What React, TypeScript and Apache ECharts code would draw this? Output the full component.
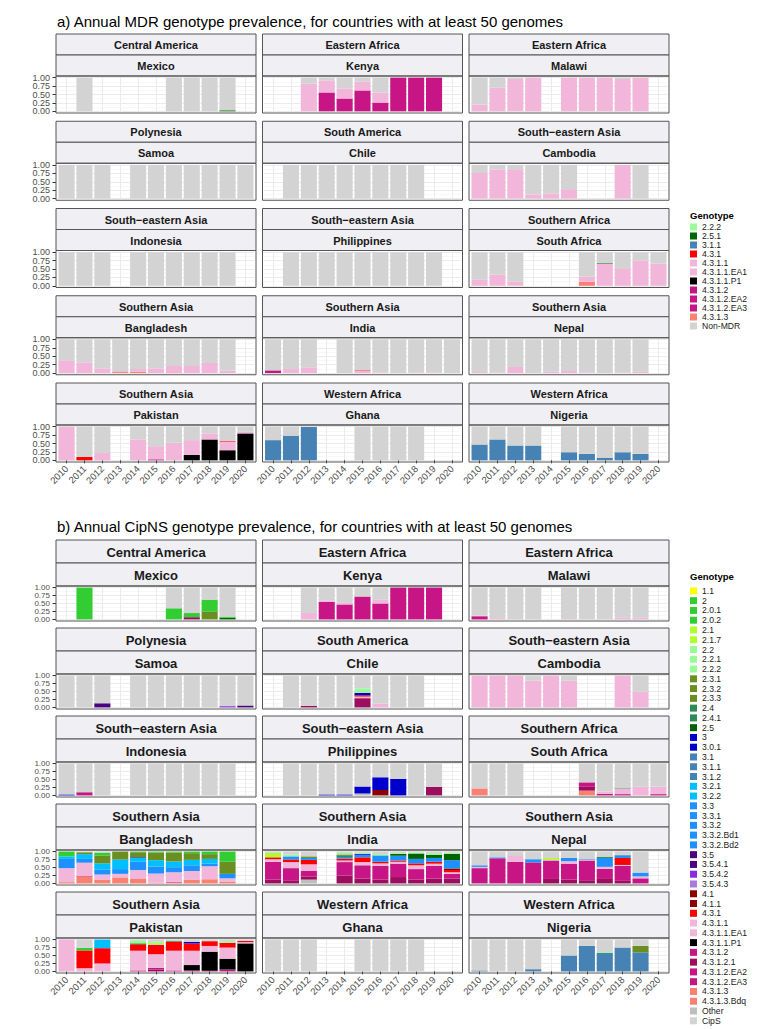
import React, { useEffect, useRef } from "react";
import * as echarts from "echarts";

const N = null;
const YEARS = ["2010", "2011", "2012", "2013", "2014", "2015", "2016", "2017", "2018", "2019", "2020"];
const Y_LABELS_EVEN = [0, 0.5, 1];
const Y_LABELS_ODD = [0.25, 0.75];

const TITLE_A = "a) Annual MDR genotype prevalence, for countries with at least 50 genomes";
const TITLE_B = "b) Annual CipNS genotype prevalence, for countries with at least 50 genomes";

const MDR_LEGEND = ["2.2.2", "2.5.1", "3.1.1", "4.3.1", "4.3.1.1", "4.3.1.1.EA1", "4.3.1.1.P1", "4.3.1.2", "4.3.1.2.EA2", "4.3.1.2.EA3", "4.3.1.3", "Non-MDR"];
const CIP_LEGEND = ["1.1", "2", "2.0.1", "2.0.2", "2.1", "2.1.7", "2.2", "2.2.1", "2.2.2", "2.3.1", "2.3.2", "2.3.3", "2.4", "2.4.1", "2.5", "3", "3.0.1", "3.1", "3.1.1", "3.1.2", "3.2.1", "3.2.2", "3.3", "3.3.1", "3.3.2", "3.3.2.Bd1", "3.3.2.Bd2", "3.5", "3.5.4.1", "3.5.4.2", "3.5.4.3", "4.1", "4.1.1", "4.3.1", "4.3.1.1", "4.3.1.1.EA1", "4.3.1.1.P1", "4.3.1.2", "4.3.1.2.1", "4.3.1.2.EA2", "4.3.1.2.EA3", "4.3.1.3", "4.3.1.3.Bdq", "Other", "CipS"];

const COLORS: Record<string, string> = {
  "1.1": "#FFFF00",
  "2": "#32CD32", "2.0.1": "#32CD32", "2.0.2": "#32CD32",
  "2.1": "#ADFF2F", "2.1.7": "#ADFF2F",
  "2.2": "#98FB98", "2.2.1": "#98FB98", "2.2.2": "#98FB98",
  "2.3.1": "#6B8E23", "2.3.2": "#6B8E23", "2.3.3": "#6B8E23",
  "2.4": "#2E8B57", "2.4.1": "#2E8B57",
  "2.5": "#006400", "2.5.1": "#006400",
  "3": "#0000CD", "3.0.1": "#0000CD",
  "3.1": "#4682B4", "3.1.1": "#4682B4", "3.1.2": "#4682B4",
  "3.2.1": "#00BFFF", "3.2.2": "#00BFFF",
  "3.3": "#1E90FF", "3.3.1": "#1E90FF", "3.3.2": "#1E90FF", "3.3.2.Bd1": "#1E90FF", "3.3.2.Bd2": "#1E90FF",
  "3.5": "#4B0082", "3.5.4.1": "#4B0082", "3.5.4.2": "#8A2BE2", "3.5.4.3": "#A77BDB",
  "4.1": "#8B0000", "4.1.1": "#8B0000",
  "4.3.1": "#FF0000",
  "4.3.1.1": "#F1B6DA", "4.3.1.1.EA1": "#F1B6DA",
  "4.3.1.1.P1": "#000000",
  "4.3.1.2": "#C71585", "4.3.1.2.1": "#9B0E5E", "4.3.1.2.EA2": "#C71585", "4.3.1.2.EA3": "#C71585",
  "4.3.1.3": "#FA8072", "4.3.1.3.Bdq": "#FA8072",
  "Other": "#BEBEBE",
  "CipS": "#D3D3D3", "Non-MDR": "#D3D3D3",
};

// ---------- panel a: MDR ----------
const A_MEXICO = {
  "2.5.1": [N, 0, N, N, N, N, 0, 0, 0, 0.03, N],
  "Non-MDR": [N, 1, N, N, N, N, 1, 1, 1, 0.97, N],
};
const A_KENYA = {
  "4.3.1.2": [N, N, 0, 0.56, 0.38, 0.62, 0.26, 1, 1, 1, N],
  "4.3.1.1": [N, N, 0.82, 0.36, 0.3, 0.26, 0.3, 0, 0, 0, N],
  "Non-MDR": [N, N, 0.18, 0.08, 0.32, 0.12, 0.44, 0, 0, 0, N],
};
const A_MALAWI = {
  "4.3.1.1": [0.2, 0.7, 0.96, 1, N, 1, 1, 1, 0.96, 1, N],
  "Non-MDR": [0.8, 0.3, 0.04, 0, N, 0, 0, 0, 0.04, 0, N],
};
const A_SAMOA = { "Non-MDR": [1, 1, 1, N, 1, 1, 1, 1, 1, 1, 1] };
const A_CHILE = { "Non-MDR": [N, 1, 1, 1, 1, 1, 1, 1, 1, N, N] };
const A_CAMBODIA = {
  "4.3.1.1": [0.76, 0.86, 0.87, 0.12, 0.15, 0.28, N, N, 1, 0, N],
  "Non-MDR": [0.24, 0.14, 0.13, 0.88, 0.85, 0.72, N, N, 0, 1, N],
};
const A_INDONESIA = { "Non-MDR": [1, 1, 1, N, 1, 1, 1, 1, 1, 1, N] };
const A_PHILIPPINES = { "Non-MDR": [N, 1, 1, 1, 1, 1, 1, 1, 1, 1, N] };
const A_SOUTH_AFRICA = {
  "4.3.1.3": [0, 0, 0, N, N, N, 0.12, 0, 0, 0, 0],
  "4.3.1.1": [0.18, 0.33, 0.12, N, N, N, 0.15, 0.65, 0.5, 0.75, 0.66],
  "2.5.1": [0, 0, 0, N, N, N, 0, 0.02, 0, 0, 0],
  "Non-MDR": [0.82, 0.67, 0.88, N, N, N, 0.73, 0.33, 0.5, 0.25, 0.34],
};
const A_BANGLADESH = {
  "4.3.1.3": [0, 0, 0, 0.03, 0.04, 0, 0.02, 0, 0, 0, N],
  "4.3.1.1": [0.38, 0.32, 0.14, 0.03, 0.08, 0.14, 0.19, 0.21, 0.3, 0.07, N],
  "Non-MDR": [0.62, 0.68, 0.86, 0.94, 0.88, 0.86, 0.79, 0.79, 0.7, 0.93, N],
};
const A_INDIA = {
  "4.3.1.2": [0.08, 0, 0, N, 0, 0, 0, 0, 0, 0, 0],
  "4.3.1.1": [0, 0.12, 0.17, N, 0, 0.07, 0.02, 0, 0.015, 0.02, 0],
  "4.3.1": [0, 0, 0, N, 0, 0.015, 0, 0, 0, 0, 0],
  "Non-MDR": [0.92, 0.88, 0.83, N, 1, 0.915, 0.98, 1, 0.985, 0.98, 1],
};
const A_NEPAL = {
  "4.3.1.1": [0.03, 0.01, 0.18, 0, 0.04, 0.06, 0.02, 0, 0.02, 0.04, N],
  "Non-MDR": [0.97, 0.99, 0.82, 1, 0.96, 0.94, 0.98, 1, 0.98, 0.96, N],
};
const A_PAKISTAN = {
  "4.3.1.2": [0, 0, 0, N, 0, 0.03, 0, 0, 0, 0, 0],
  "4.3.1.1.P1": [0, 0, 0, N, 0, 0, 0, 0.16, 0.62, 0.3, 0.8],
  "4.3.1.1": [1, 0, 0.22, N, 0.62, 0.39, 0.52, 0.44, 0.18, 0.25, 0.05],
  "4.3.1": [0, 0.1, 0, N, 0, 0, 0, 0, 0, 0.02, 0],
  "Non-MDR": [0, 0.9, 0.78, N, 0.38, 0.58, 0.48, 0.4, 0.2, 0.43, 0.15],
};
const A_GHANA = {
  "3.1.1": [0.6, 0.73, 0.99, N, N, 0, 0, 0, 0, N, N],
  "Non-MDR": [0.4, 0.27, 0.01, N, N, 1, 1, 1, 1, N, N],
};
const A_NIGERIA = {
  "3.1.1": [0.47, 0.62, 0.44, 0.44, N, 0.24, 0.19, 0.08, 0.24, 0.19, N],
  "Non-MDR": [0.53, 0.38, 0.56, 0.56, N, 0.76, 0.81, 0.92, 0.76, 0.81, N],
};

// ---------- panel b: CipNS ----------
const B_MEXICO = {
  "4.3.1.2.1": [N, 0, N, N, N, N, 0, 0.07, 0, 0, N],
  "2.5": [N, 0, N, N, N, N, 0, 0, 0, 0.05, N],
  "2.3.1": [N, 0, N, N, N, N, 0, 0, 0.25, 0, N],
  "2": [N, 1, N, N, N, N, 0.35, 0.13, 0.37, 0.04, N],
  "CipS": [N, 0, N, N, N, N, 0.65, 0.8, 0.38, 0.91, N],
};
const B_KENYA = {
  "4.3.1.2": [N, N, 0, 0.55, 0.47, 0.72, 0.5, 1, 1, 1, N],
  "4.3.1.1": [N, N, 0.2, 0.05, 0.05, 0, 0.12, 0, 0, 0, N],
  "CipS": [N, N, 0.8, 0.4, 0.48, 0.28, 0.38, 0, 0, 0, N],
};
const B_MALAWI = {
  "4.3.1.2": [0.1, 0, 0, 0, N, 0, 0, 0, 0, 0, N],
  "4.3.1.1": [0.02, 0.04, 0, 0, N, 0.01, 0, 0, 0.05, 0.05, N],
  "CipS": [0.88, 0.96, 1, 1, N, 0.99, 1, 1, 0.95, 0.95, N],
};
const B_SAMOA = {
  "3.5.4.2": [0, 0, 0, N, 0, 0, 0, 0, 0, 0.04, 0],
  "3.5.4.1": [0, 0, 0.13, N, 0, 0, 0, 0, 0, 0, 0.06],
  "CipS": [1, 1, 0.87, N, 1, 1, 1, 1, 1, 0.96, 0.94],
};
const B_CHILE = {
  "4.3.1.2.1": [N, 0, 0.05, 0, 0, 0.29, 0, 0, 0, N, N],
  "4.3.1.1": [N, 0, 0, 0, 0, 0.05, 0.12, 0, 0, N, N],
  "4.3.1": [N, 0, 0, 0, 0, 0.04, 0, 0, 0, N, N],
  "3": [N, 0, 0, 0, 0, 0.08, 0, 0, 0, N, N],
  "2.2": [N, 0, 0, 0, 0, 0.14, 0, 0, 0, N, N],
  "CipS": [N, 1, 0.95, 1, 1, 0.4, 0.88, 1, 1, N, N],
};
const B_CAMBODIA = {
  "4.3.1.1": [1, 1, 1, 0.84, 1, 0.84, N, N, 1, 0.5, N],
  "CipS": [0, 0, 0, 0.16, 0, 0.16, N, N, 0, 0.5, N],
};
const B_INDONESIA = {
  "4.3.1.2": [0, 0.1, 0, N, 0, 0, 0, 0, 0, 0, N],
  "3": [0.03, 0, 0, N, 0, 0, 0, 0, 0, 0, N],
  "CipS": [0.97, 0.9, 1, N, 1, 1, 1, 1, 1, 1, N],
};
const B_PHILIPPINES = {
  "Other": [N, 0, 0, 0, 0, 0.06, 0, 0, 0, 0, N],
  "4.3.1.2.1": [N, 0, 0, 0, 0, 0, 0, 0, 0, 0.27, N],
  "4.1": [N, 0, 0, 0, 0, 0, 0.17, 0, 0, 0, N],
  "3": [N, 0, 0, 0.03, 0.03, 0.22, 0.4, 0.52, 0, 0, N],
  "CipS": [N, 1, 1, 0.97, 0.97, 0.72, 0.43, 0.48, 1, 0.73, N],
};
const B_SOUTH_AFRICA = {
  "4.3.1.3": [0.22, 0, 0, N, N, N, 0.15, 0, 0, 0, 0],
  "4.3.1.2.1": [0, 0, 0, N, N, N, 0.12, 0, 0, 0, 0],
  "4.3.1.2": [0, 0, 0, N, N, N, 0.14, 0.05, 0.04, 0, 0.04],
  "4.3.1.1": [0, 0, 0, N, N, N, 0, 0.07, 0.18, 0.27, 0.24],
  "2.4": [0, 0, 0, N, N, N, 0, 0, 0.02, 0, 0],
  "CipS": [0.78, 1, 1, N, N, N, 0.59, 0.88, 0.76, 0.73, 0.72],
};
const B_BANGLADESH = {
  "4.3.1.3": [0.04, 0.22, 0.11, 0.19, 0.14, 0.02, 0.03, 0.11, 0.13, 0.06, N],
  "4.3.1.2": [0, 0.02, 0, 0, 0.01, 0, 0.02, 0, 0, 0, N],
  "4.3.1.1": [0.44, 0.41, 0.17, 0.11, 0.27, 0.29, 0.3, 0.28, 0.41, 0.1, N],
  "3.3": [0.29, 0.12, 0.15, 0.15, 0.26, 0.22, 0.16, 0.18, 0.08, 0.14, N],
  "3.2.1": [0.08, 0.15, 0.2, 0.3, 0.12, 0.2, 0.18, 0.17, 0.15, 0, N],
  "3": [0, 0, 0, 0, 0.02, 0, 0, 0, 0, 0, N],
  "2.3.1": [0, 0.06, 0.24, 0.25, 0.16, 0.24, 0.28, 0.21, 0.15, 0.38, N],
  "2": [0.15, 0, 0.1, 0, 0.02, 0.03, 0.03, 0.05, 0.08, 0.32, N],
  "CipS": [0, 0.02, 0.03, 0, 0, 0, 0, 0, 0, 0, N],
};
const B_INDIA = {
  "Other": [0, 0, 0.12, N, 0, 0, 0, 0, 0, 0, 0],
  "4.3.1.2.1": [0.12, 0.08, 0.1, N, 0.25, 0.15, 0.12, 0.2, 0.12, 0.15, 0.15],
  "4.3.1.2": [0.56, 0.4, 0.18, N, 0.42, 0.42, 0.43, 0.42, 0.33, 0.4, 0.15],
  "4.3.1.1": [0.08, 0.19, 0.2, N, 0.05, 0.1, 0.08, 0.06, 0.12, 0.07, 0.05],
  "4.3.1": [0.06, 0.08, 0.14, N, 0.06, 0.15, 0.05, 0.04, 0.06, 0.06, 0.07],
  "4.1": [0, 0, 0, N, 0, 0, 0, 0, 0, 0, 0.05],
  "3.3": [0, 0.1, 0.06, N, 0.06, 0.08, 0.2, 0.15, 0.14, 0.12, 0.26],
  "3": [0, 0, 0, N, 0, 0.03, 0, 0, 0, 0, 0],
  "2.5": [0, 0, 0, N, 0.04, 0, 0, 0.06, 0.17, 0.1, 0.2],
  "2.3.1": [0, 0, 0.05, N, 0.03, 0, 0, 0, 0, 0, 0],
  "2.2": [0, 0.05, 0, N, 0.05, 0.03, 0.04, 0.03, 0.03, 0.05, 0.04],
  "2.1": [0.14, 0, 0, N, 0, 0, 0, 0, 0, 0, 0],
  "CipS": [0.04, 0.1, 0.15, N, 0.04, 0.04, 0.08, 0.04, 0.03, 0.05, 0.03],
};
const B_NEPAL = {
  "4.3.1.2.1": [0, 0, 0, 0, 0.14, 0.12, 0.1, 0.14, 0.08, 0, N],
  "4.3.1.2": [0.48, 0.79, 0.68, 0.66, 0.58, 0.5, 0.62, 0.32, 0.47, 0.16, N],
  "4.3.1.1": [0.04, 0, 0.18, 0, 0.02, 0.08, 0.02, 0.06, 0.03, 0.06, N],
  "4.3.1": [0, 0, 0, 0, 0, 0, 0, 0, 0.22, 0, N],
  "3.3": [0.05, 0.03, 0, 0.1, 0, 0.1, 0.02, 0.28, 0.08, 0.12, N],
  "3.1": [0, 0, 0, 0, 0, 0, 0, 0, 0.02, 0, N],
  "2.4": [0, 0, 0, 0, 0, 0, 0, 0.04, 0, 0, N],
  "2.1": [0, 0, 0, 0, 0.06, 0, 0, 0, 0, 0, N],
  "CipS": [0.43, 0.18, 0.14, 0.24, 0.2, 0.2, 0.24, 0.16, 0.1, 0.66, N],
};
const B_PAKISTAN = {
  "4.3.1.2.1": [0, 0, 0, N, 0, 0.06, 0, 0, 0, 0, 0],
  "4.3.1.2": [0, 0, 0, N, 0.03, 0.05, 0.03, 0.03, 0.02, 0.06, 0],
  "4.3.1.1.P1": [0, 0, 0, N, 0, 0, 0, 0.17, 0.6, 0.34, 0.88],
  "4.3.1.1": [1, 0.1, 0.25, N, 0.62, 0.43, 0.62, 0.45, 0.18, 0.35, 0.04],
  "4.3.1": [0, 0.56, 0.48, N, 0.2, 0.3, 0.28, 0.23, 0.15, 0.15, 0.04],
  "3.2.1": [0, 0, 0.27, N, 0, 0, 0, 0, 0, 0, 0],
  "3": [0, 0, 0, N, 0, 0, 0, 0.05, 0, 0, 0],
  "2.5": [0, 0, 0, N, 0.03, 0, 0.02, 0, 0, 0, 0],
  "2.2": [0, 0, 0, N, 0.1, 0.06, 0, 0, 0, 0.05, 0],
  "2.1": [0, 0, 0, N, 0, 0.03, 0, 0, 0, 0, 0],
  "2": [0, 0.08, 0, N, 0, 0, 0, 0, 0, 0, 0],
  "CipS": [0, 0.26, 0, N, 0.02, 0.07, 0.05, 0.07, 0.05, 0.05, 0.04],
};
const B_GHANA = { "CipS": [1, 1, 1, N, N, 1, 1, 1, 1, N, N] };
const B_NIGERIA = {
  "3.1.1": [0.03, 0, 0, 0.07, N, 0.5, 0.8, 0.58, 0.75, 0.6, N],
  "2.3.1": [0, 0, 0, 0, N, 0, 0, 0, 0, 0.2, N],
  "2.2": [0, 0, 0, 0, N, 0, 0, 0.03, 0, 0, N],
  "CipS": [0.97, 1, 1, 0.93, N, 0.5, 0.2, 0.39, 0.25, 0.2, N],
};

const FACETS_A: any[] = [
  ["Central America", "Mexico", A_MEXICO], ["Eastern Africa", "Kenya", A_KENYA], ["Eastern Africa", "Malawi", A_MALAWI],
  ["Polynesia", "Samoa", A_SAMOA], ["South America", "Chile", A_CHILE], ["South\u2212eastern Asia", "Cambodia", A_CAMBODIA],
  ["South\u2212eastern Asia", "Indonesia", A_INDONESIA], ["South\u2212eastern Asia", "Philippines", A_PHILIPPINES], ["Southern Africa", "South Africa", A_SOUTH_AFRICA],
  ["Southern Asia", "Bangladesh", A_BANGLADESH], ["Southern Asia", "India", A_INDIA], ["Southern Asia", "Nepal", A_NEPAL],
  ["Southern Asia", "Pakistan", A_PAKISTAN], ["Western Africa", "Ghana", A_GHANA], ["Western Africa", "Nigeria", A_NIGERIA],
];
const FACETS_B: any[] = [
  ["Central America", "Mexico", B_MEXICO], ["Eastern Africa", "Kenya", B_KENYA], ["Eastern Africa", "Malawi", B_MALAWI],
  ["Polynesia", "Samoa", B_SAMOA], ["South America", "Chile", B_CHILE], ["South\u2212eastern Asia", "Cambodia", B_CAMBODIA],
  ["South\u2212eastern Asia", "Indonesia", B_INDONESIA], ["South\u2212eastern Asia", "Philippines", B_PHILIPPINES], ["Southern Africa", "South Africa", B_SOUTH_AFRICA],
  ["Southern Asia", "Bangladesh", B_BANGLADESH], ["Southern Asia", "India", B_INDIA], ["Southern Asia", "Nepal", B_NEPAL],
  ["Southern Asia", "Pakistan", B_PAKISTAN], ["Western Africa", "Ghana", B_GHANA], ["Western Africa", "Nigeria", B_NIGERIA],
];

const FONT = '"Liberation Sans", Arial, Helvetica, sans-serif';
const COL_LEFT = [56, 262.5, 469];
const COL_W = 200;

function buildOption() {
  const grids: any[] = [];
  const xAxes: any[] = [];
  const yAxes: any[] = [];
  const series: any[] = [];
  const graphics: any[] = [];
  const legends: any[] = [];

  const panels = [
    { facets: FACETS_A, legend: MDR_LEGEND, none: "Non-MDR", top: 34, pitch: 87.25, strip: 21, plot: 37, stripFont: 11,
      yFont: 9, title: TITLE_A, titleY: 21, legTitleY: 215, legTop: 222.5, legLH: 9, legFont: 8.6 },
    { facets: FACETS_B, legend: CIP_LEGEND, none: "CipS", top: 540, pitch: 88, strip: 23, plot: 35, stripFont: 13,
      yFont: 8, title: TITLE_B, titleY: 526, legTitleY: 576, legTop: 586, legLH: 9.77, legFont: 8.6 },
  ];

  const yLabelBase = (show: boolean, values: number[], size: number) => ({
    show, fontSize: size, color: "#4D4D4D", margin: 6, fontFamily: FONT,
    customValues: values, showMinLabel: true, showMaxLabel: true, hideOverlap: false,
    formatter: (v: number) => Number(v).toFixed(2),
  });

  let gi = 0;
  panels.forEach((p) => {
    const order = p.legend.filter((g) => g !== p.none).slice().reverse().concat([p.none]);
    const firstGrid = gi;
    const used = new Set<string>();

    graphics.push({
      type: "text", x: 57, y: p.titleY, silent: true,
      style: { text: p.title, fill: "#000", font: `15px ${FONT}`, align: "left", verticalAlign: "middle" },
    });
    graphics.push({
      type: "text", x: 690, y: p.legTitleY, silent: true,
      style: { text: "Genotype", fill: "#000", font: `bold 9.5px ${FONT}`, align: "left", verticalAlign: "middle" },
    });

    p.facets.forEach((f: any, fi: number) => {
      const [region, country, data] = f;
      const r = Math.floor(fi / 3);
      const c = fi % 3;
      const x0 = COL_LEFT[c];
      const y0 = p.top + r * p.pitch;
      const py = y0 + 2 * p.strip;
      const xpad = (COL_W * 0.1) / 12.2;
      const ypad = (p.plot * 0.05) / 1.1;
      const bottomRow = r === 4;
      const leftCol = c === 0;

      grids.push({ left: x0 + xpad, top: py + ypad, width: COL_W - 2 * xpad, height: p.plot - 2 * ypad, containLabel: false });
      xAxes.push({
        type: "category", gridIndex: gi, data: YEARS, offset: ypad,
        axisLine: { show: false },
        axisTick: { show: bottomRow, alignWithLabel: true, length: 3, interval: 0, lineStyle: { color: "#333", width: 1 } },
        axisLabel: { show: bottomRow, rotate: 45, interval: 0, fontSize: 9.5, color: "#4D4D4D", margin: 5, fontFamily: FONT },
        splitLine: { show: true, alignWithLabel: true, interval: 0, lineStyle: { color: "#EBEBEB", width: 1 } },
      });
      // main y axis (bars, grid lines, ticks, labels 0/0.5/1)
      const yMain = yAxes.length;
      yAxes.push({
        type: "value", gridIndex: gi, min: 0, max: 1, interval: 0.25, offset: xpad, position: "left",
        axisLine: { show: false },
        axisTick: { show: leftCol, length: 3.5, lineStyle: { color: "#333", width: 1 } },
        axisLabel: yLabelBase(leftCol, Y_LABELS_EVEN, p.yFont),
        splitLine: { show: true, lineStyle: { color: "#EBEBEB", width: 1 } },
        minorTick: { show: false, splitNumber: 2 },
        minorSplitLine: { show: true, lineStyle: { color: "#F3F3F3", width: 0.6 } },
      });
      // companion y axis carrying the 0.25 / 0.75 labels
      yAxes.push({
        type: "value", gridIndex: gi, min: 0, max: 1, interval: 0.25, offset: xpad, position: "left",
        axisLine: { show: false },
        axisTick: { show: false },
        axisLabel: yLabelBase(leftCol, Y_LABELS_ODD, p.yFont),
        splitLine: { show: false },
      });

      order.forEach((g) => {
        if (data[g]) {
          used.add(g);
          series.push({
            type: "bar", name: g, xAxisIndex: gi, yAxisIndex: yMain, stack: "s" + gi,
            data: data[g], barWidth: "90%", itemStyle: { color: COLORS[g], borderWidth: 0 },
            emphasis: { disabled: true }, silent: true,
          });
        }
      });

      // strips
      graphics.push({
        type: "rect", silent: true, z: 5,
        shape: { x: x0, y: y0, width: COL_W, height: p.strip },
        style: { fill: "#EFEFF4", stroke: "#555", lineWidth: 1 },
      });
      graphics.push({
        type: "rect", silent: true, z: 5,
        shape: { x: x0, y: y0 + p.strip, width: COL_W, height: p.strip },
        style: { fill: "#EFEFF4", stroke: "#555", lineWidth: 1 },
      });
      graphics.push({
        type: "text", silent: true, z: 6, x: x0 + COL_W / 2, y: y0 + p.strip / 2 + 0.5,
        style: { text: region, fill: "#1A1A1A", font: `bold ${p.stripFont}px ${FONT}`, align: "center", verticalAlign: "middle" },
      });
      graphics.push({
        type: "text", silent: true, z: 6, x: x0 + COL_W / 2, y: y0 + p.strip * 1.5 + 0.5,
        style: { text: country, fill: "#1A1A1A", font: `bold ${p.stripFont}px ${FONT}`, align: "center", verticalAlign: "middle" },
      });
      // panel border
      graphics.push({
        type: "rect", silent: true, z: 100,
        shape: { x: x0, y: py, width: COL_W, height: p.plot },
        style: { fill: "none", stroke: "#555", lineWidth: 1 },
      });
      gi++;
    });

    p.legend.forEach((g) => {
      if (!used.has(g)) {
        series.push({
          type: "bar", name: g, xAxisIndex: firstGrid, yAxisIndex: firstGrid * 2, stack: "s" + firstGrid,
          data: [], barWidth: "90%", itemStyle: { color: COLORS[g] }, silent: true,
        });
      }
    });

    legends.push({
      data: p.legend, orient: "vertical", left: 690, top: p.legTop, padding: 0,
      itemWidth: 7, itemHeight: 7, itemGap: 0, icon: "rect", selectedMode: false,
      textStyle: { fontSize: p.legFont, lineHeight: p.legLH, color: "#1A1A1A", fontFamily: FONT },
    });
  });

  return {
    animation: false,
    backgroundColor: "#FFFFFF",
    grid: grids,
    xAxis: xAxes,
    yAxis: yAxes,
    series,
    legend: legends,
    graphic: { elements: graphics },
  };
}

export default function App() {
  const ref = useRef<HTMLDivElement>(null);
  useEffect(() => {
    document.body.style.margin = "0";
    if (!ref.current) return;
    const chart = echarts.init(ref.current, null, { renderer: "svg" });
    chart.setOption(buildOption() as any);
    return () => chart.dispose();
  }, []);
  return <div ref={ref} style={{ width: 772, height: 1029 }} />;
}
